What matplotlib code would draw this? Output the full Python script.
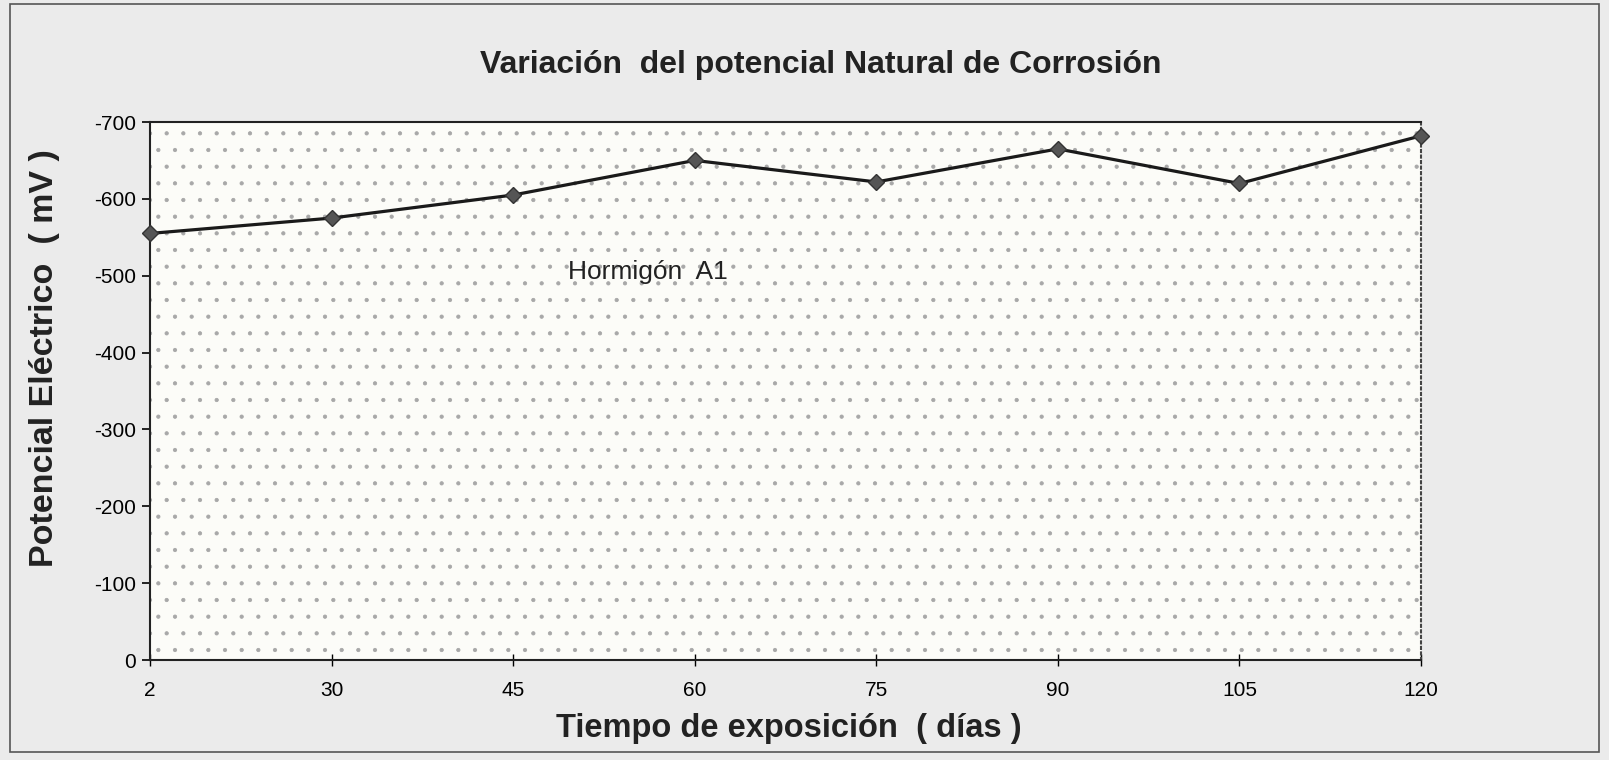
import matplotlib
matplotlib.use("Agg")
import matplotlib.pyplot as plt
from matplotlib.patches import Rectangle

plt.rcParams['font.family'] = ['Liberation Sans', 'DejaVu Sans']
plt.rcParams['hatch.color'] = '#a8a8a8'
plt.rcParams['hatch.linewidth'] = 0.6

dias = ["2", "30", "45", "60", "75", "90", "105", "120"]
potencial = [-555, -575, -605, -650, -622, -665, -620, -682]
yticks = [0, -100, -200, -300, -400, -500, -600, -700]
ytick_labels = ["0", "-100", "-200", "-300", "-400", "-500", "-600", "-700"]

W, H = 1609, 760
fig = plt.figure(figsize=(W / 100, H / 100), dpi=100)
fig.patch.set_facecolor('#ebebeb')

# outer frame
fig.patches.append(Rectangle((10 / W, 8 / H), 1 - 20 / W, 1 - 12 / H,
                             transform=fig.transFigure, fill=False,
                             edgecolor='#555555', linewidth=1.2, zorder=-1))

ax = fig.add_axes([150 / W, 1 - 660 / H, (1421 - 150) / W, (660 - 122) / H])
ax.set_facecolor('#fcfcf8')
ax.patch.set_hatch('.')
ax.patch.set_edgecolor('#a8a8a8')

x = list(range(len(dias)))
ax.plot(x, potencial, color='#1a1a1a', linewidth=2.3, marker='D',
        markersize=8.5, markerfacecolor='#555555', markeredgecolor='#333333',
        clip_on=False, zorder=5)

ax.set_xlim(0, len(dias) - 1)
ax.set_ylim(0, -700)
ax.set_xticks(x)
ax.set_xticklabels(dias, fontsize=15)
ax.set_yticks(yticks)
ax.set_yticklabels(ytick_labels, fontsize=15)
ax.tick_params(axis='y', direction='out', length=6, width=1.2, pad=4)
ax.tick_params(axis='x', direction='inout', length=8, width=1.0, pad=11)

for s in ['left', 'bottom', 'top']:
    ax.spines[s].set_color('#222222')
    ax.spines[s].set_linewidth(1.5)
ax.spines['right'].set_linestyle(':')
ax.spines['right'].set_color('#444444')
ax.spines['right'].set_linewidth(1.5)

ax.text(2.3, -505, "Hormigón  A1", fontsize=19, color='#222222',
        ha='left', va='center')

fig.text(0.51, 1 - 65 / H, "Variación  del potencial Natural de Corrosión",
         ha='center', va='center', fontsize=23, fontweight='bold', color='#222222')
fig.text(0.49, 1 - 729 / H, "Tiempo de exposición  ( días )",
         ha='center', va='center', fontsize=23.5, fontweight='bold', color='#222222')
fig.text(45 / W, 1 - 358 / H, "Potencial Eléctrico  ( mV )", rotation=90,
         ha='center', va='center', fontsize=24.5, fontweight='bold', color='#222222')

fig.savefig("out.png", dpi=100, facecolor=fig.get_facecolor())
